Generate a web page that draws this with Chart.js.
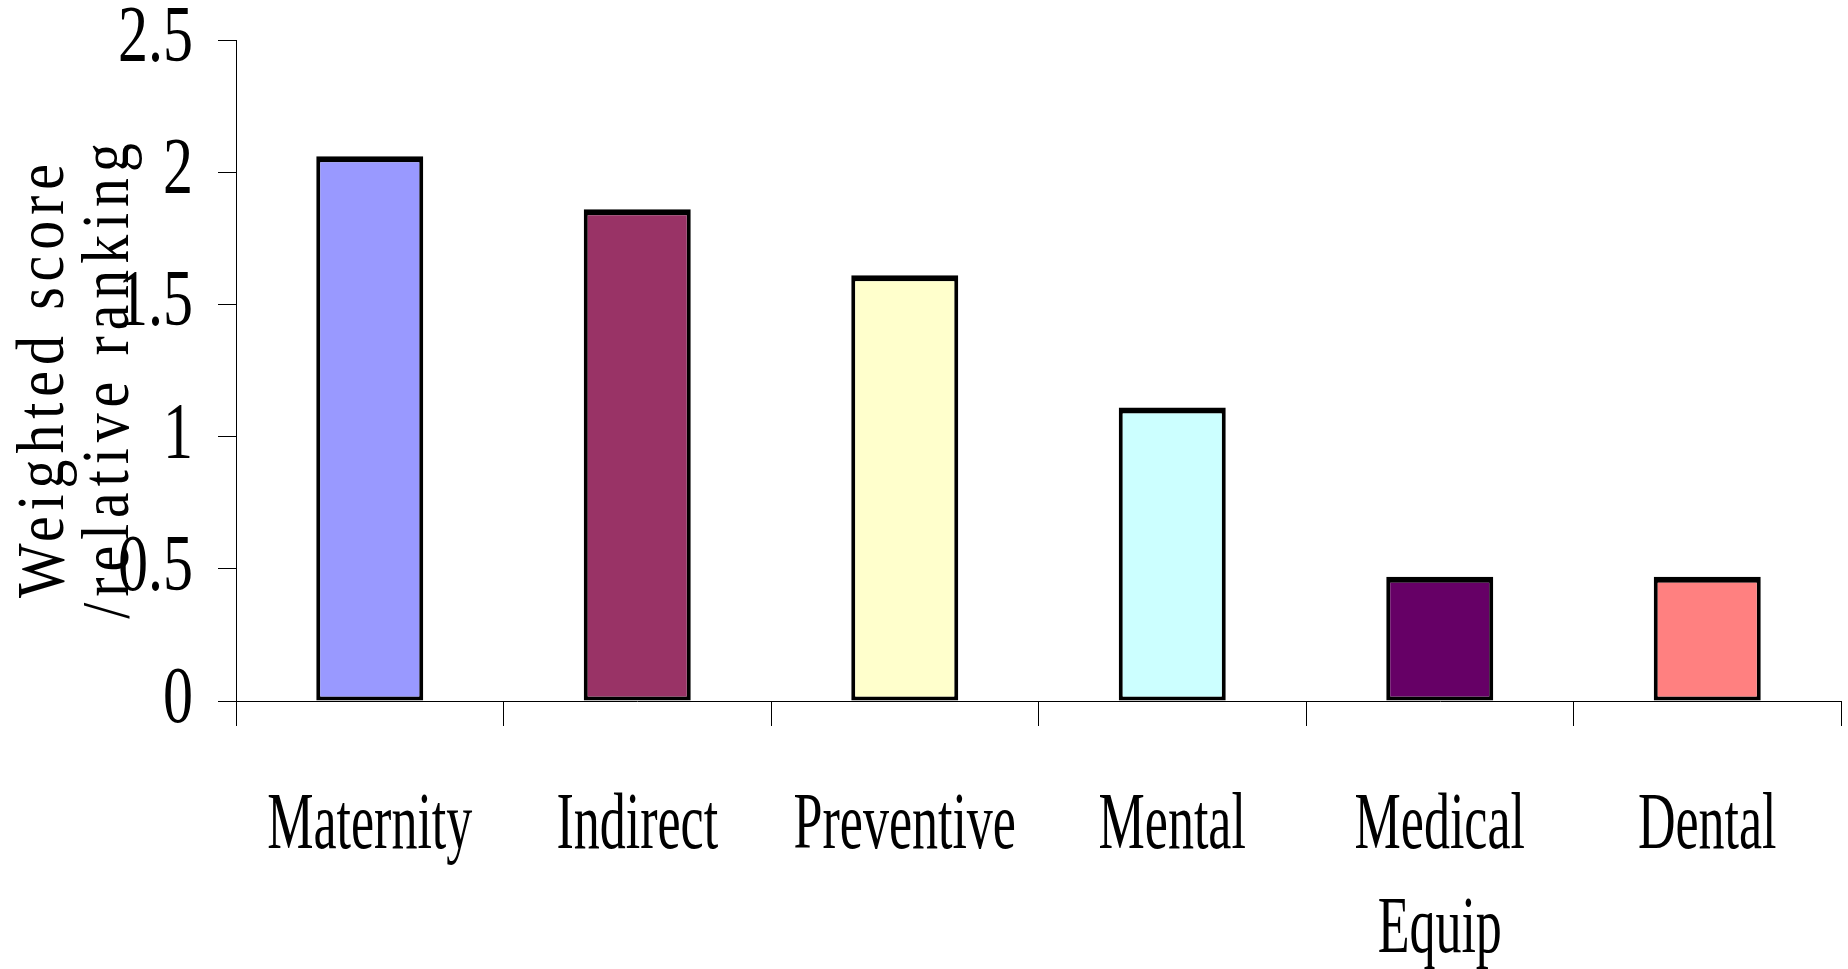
<!DOCTYPE html>
<html>
<head>
<meta charset="utf-8">
<script src="https://cdn.jsdelivr.net/npm/chart.js@4.4.1/dist/chart.umd.min.js"></script>
<style>
  html, body { margin: 0; padding: 0; background: #ffffff; }
  canvas { display: block; }
</style>
</head>
<body>
<canvas id="chart" width="1848" height="969"></canvas>
<script>
// Service categories (multi-line labels as arrays)
const categories = [['Maternity'], ['Indirect'], ['Preventive'], ['Mental'], ['Medical', 'Equip'], ['Dental']];
// Weighted score per category
const scores = [2.06, 1.86, 1.61, 1.11, 0.47, 0.47];
// Fill colour of each bar
const barColors = ['#9999FF', '#993366', '#FFFFCC', '#CCFFFF', '#660066', '#FF8080'];
// Value axis ticks
const yTickValues = [0, 0.5, 1, 1.5, 2, 2.5];
const yTickLabels = ['0', '0.5', '1', '1.5', '2', '2.5'];
// Value axis title, two lines
const yTitleLines = ['Weighted score', '/relative ranking'];

const SERIF = '"Liberation Serif", "Times New Roman", Times, serif';

// Draw text squeezed horizontally (narrow serif look)
function narrowText(ctx, text, x, y, sx, align) {
  ctx.save();
  ctx.translate(x, y);
  ctx.scale(sx, 1);
  ctx.textAlign = align;
  ctx.fillText(text, 0, 0);
  ctx.restore();
}

const axisText = {
  id: 'axisText',
  afterDraw(chart) {
    const { ctx } = chart;
    const xs = chart.scales.x;
    const ys = chart.scales.y;
    ctx.save();
    ctx.fillStyle = '#000000';

    // value tick labels
    ctx.font = '80px ' + SERIF;
    ctx.textBaseline = 'middle';
    ys.ticks.forEach((t, i) => {
      const py = ys.getPixelForTick(i);
      narrowText(ctx, yTickLabels[i], ys.right - 43, py, 0.75, 'right');
    });

    // category labels
    ctx.textBaseline = 'alphabetic';
    xs.ticks.forEach((t, i) => {
      const px = xs.getPixelForTick(i);
      categories[i].forEach((line, j) => {
        narrowText(ctx, line, px, xs.top + 147 + j * 104, 0.65, 'center');
      });
    });

    // rotated axis title: narrow glyphs, widely spaced
    ctx.font = '68px ' + SERIF;
    ctx.letterSpacing = '7px';
    ctx.textBaseline = 'alphabetic';
    const midY = 378;
    const baselines = [63, 128];
    yTitleLines.forEach((line, j) => {
      ctx.save();
      ctx.translate(baselines[j], midY);
      ctx.rotate(-Math.PI / 2);
      ctx.scale(0.85, 1);
      ctx.textAlign = 'center';
      ctx.fillText(line, 0, 0);
      ctx.restore();
    });
    ctx.restore();
  }
};

new Chart(document.getElementById('chart'), {
  type: 'bar',
  data: {
    labels: categories,
    datasets: [{
      data: scores,
      backgroundColor: barColors,
      borderColor: '#000000',
      borderWidth: { top: 6, left: 4, right: 4, bottom: 4 },
      borderSkipped: false,
      barPercentage: 0.4,
      categoryPercentage: 1.0
    }]
  },
  options: {
    responsive: false,
    animation: false,
    devicePixelRatio: 1,
    layout: { padding: { left: 0, top: 40, right: 7, bottom: 0 } },
    plugins: { legend: { display: false }, tooltip: { enabled: false } },
    scales: {
      x: {
        ticks: { display: false },
        grid: { display: true, offset: true, drawOnChartArea: false, drawTicks: true, tickLength: 25, color: '#000000', lineWidth: 1 },
        border: { display: true, color: '#000000', width: 1 },
        afterFit(scale) { scale.height = 268; }
      },
      y: {
        min: 0,
        max: 2.5,
        afterBuildTicks(scale) { scale.ticks = yTickValues.map(v => ({ value: v })); },
        ticks: { display: false },
        grid: { display: true, drawOnChartArea: false, drawTicks: true, tickLength: 18, color: '#000000', lineWidth: 1 },
        border: { display: true, color: '#000000', width: 1 },
        afterFit(scale) { scale.width = 236; }
      }
    }
  },
  plugins: [axisText]
});
</script>
</body>
</html>
